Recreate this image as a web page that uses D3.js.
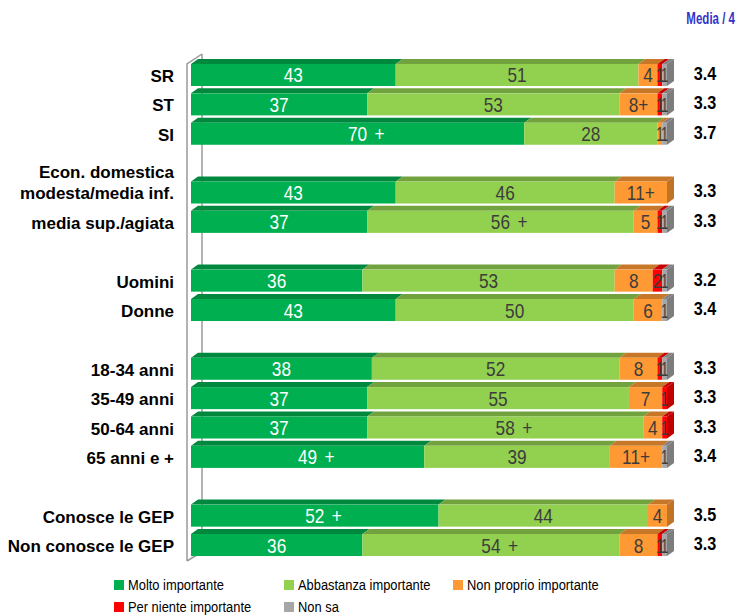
<!DOCTYPE html>
<html><head><meta charset="utf-8">
<script src="https://cdn.jsdelivr.net/npm/d3@7"></script>
<style>
html,body{margin:0;padding:0;background:#fff;}
svg{display:block;}
</style></head>
<body><svg id="chart" width="737" height="615"></svg>
<script>
// ---- data ----
const categories = ["SR","ST","SI","Econ. domestica\nmodesta/media inf.","media sup./agiata","Uomini","Donne","18-34 anni","35-49 anni","50-64 anni","65 anni e +","Conosce le GEP","Non conosce le GEP"];
const groupIndex = [0,0,0,1,1,2,2,3,3,3,3,4,4];
const seriesNames = ["Molto importante","Abbastanza importante","Non proprio importante","Per niente importante","Non sa"];
const molto      = [43,37,70,43,37,36,43,38,37,37,49,52,36];
const abbastanza = [51,53,28,46,56,53,50,52,55,58,39,44,54];
const nonProprio = [4,8,1,11,5,8,6,8,7,4,11,4,8];
const perNiente  = [1,1,0,0,1,2,0,1,1,1,0,0,1];
const nonSa      = [1,1,1,0,1,1,1,1,0,0,1,0,1];
const plusMolto      = [0,0,1,0,0,0,0,0,0,0,1,1,0];
const plusAbbastanza = [0,0,0,0,1,0,0,0,0,1,0,0,1];
const plusNonProprio = [0,1,0,1,0,0,0,0,0,0,1,0,0];
const media = ["3.4","3.3","3.7","3.3","3.3","3.2","3.4","3.3","3.3","3.3","3.4","3.5","3.3"];
const colors = ["#00b050","#92d050","#ff9933","#ff0000","#a6a6a6"];

const series = [molto, abbastanza, nonProprio, perNiente, nonSa];
const plusFlags = [plusMolto, plusAbbastanza, plusNonProprio, null, null];

// ---- layout ----
const svg = d3.select("#chart");
const nSlots = categories.length + d3.max(groupIndex);
const x = d3.scaleLinear().domain([0,100]).range([191,667]);
const y = d3.scaleBand().domain(d3.range(nSlots)).range([60.3,559.7]).paddingInner(0.25).paddingOuter(0.125);
const h = y.bandwidth();
const dx = 7, dy = 5;
const slot = i => i + groupIndex[i];

const font = "'Liberation Sans',Arial,sans-serif";

function condText(parent, tx, ty, str, opts) {
  const t = parent.append("text")
    .attr("transform", `translate(${tx},${ty}) scale(${opts.sx||0.82},1)`)
    .attr("text-anchor", opts.anchor || "middle")
    .attr("font-family", font)
    .attr("font-size", opts.size)
    .attr("fill", opts.fill)
    .text(str);
  if (opts.bold) t.attr("font-weight","bold");
  return t;
}

// back wall line + axis
const axisG = svg.append("g").attr("stroke","#9a9a9a").attr("fill","none").attr("stroke-width",1.5);
axisG.append("line").attr("x1",202).attr("x2",202).attr("y1",54).attr("y2",553);
axisG.append("path").attr("d","M187,561 L187,64 L202,54 M187,561 L200,553");

// bars
const rowsG = svg.append("g");
categories.forEach((c,i) => {
  const yt = y(slot(i));
  const g = rowsG.append("g");
  let cum = 0;
  const segs = [];
  series.forEach((s,k) => {
    const v = s[i];
    if (v > 0) segs.push({k, v, x0:x(cum), x1:x(cum+v)});
    cum += v;
  });
  segs.forEach(d => {
    g.append("path")
      .attr("d",`M${d.x0},${yt} L${d.x0+dx},${yt-dy} L${d.x1+dx},${yt-dy} L${d.x1},${yt} Z`)
      .attr("fill", d3.color(colors[d.k]).darker(0.7));
  });
  segs.forEach(d => {
    g.append("rect").attr("x",d.x0).attr("y",yt).attr("width",d.x1-d.x0).attr("height",h)
      .attr("fill",colors[d.k]);
  });
  const last = segs[segs.length-1];
  g.append("path")
    .attr("d",`M${last.x1},${yt} L${last.x1+dx},${yt-dy} L${last.x1+dx},${yt-dy+h} L${last.x1},${yt+h} Z`)
    .attr("fill", d3.color(colors[last.k]).darker(0.8));
  // labels
  segs.forEach(d => {
    const cx = (d.x0+d.x1)/2;
    const flag = plusFlags[d.k] ? plusFlags[d.k][i] : 0;
    const fill = d.k === 0 ? "#ffffff" : "#3c3c3c";
    const ty = yt + h/2 + 7.5;
    const small = (d.x1 - d.x0) < 8;
    const opts = {size: 21, fill, sx: small ? 0.62 : 0.82};
    if (d.k === 2 && flag) {
      condText(g, cx, ty, d.v+"+", opts);
    } else {
      condText(g, cx, ty, String(d.v), opts);
      if (flag) condText(g, cx+17, ty, "+", Object.assign({}, opts, {anchor:"start"}));
    }
  });
  // category label
  const lines = c.split("\n");
  lines.forEach((ln,j) => {
    svg.append("text").attr("x",174).attr("y",yt+h/2+7 - (lines.length-1-j)*21)
      .attr("text-anchor","end").attr("font-family",font).attr("font-weight","bold")
      .attr("font-size",17).attr("fill","#000").text(ln);
  });
  // media
  condText(svg, 705, yt+h/2+5, media[i], {size:18, fill:"#000", bold:true, sx:0.9});
});

// header
condText(svg, 735, 24, "Media / 4", {size:16, fill:"#3434c8", bold:true, anchor:"end", sx:0.72});

// legend
const legX = [114,284,453], legY = [580,602];
seriesNames.forEach((n,k) => {
  const lx = legX[k%3], ly = legY[Math.floor(k/3)];
  svg.append("rect").attr("x",lx).attr("y",ly).attr("width",10).attr("height",10).attr("fill",colors[k]);
  condText(svg, lx+14, ly+10, n, {size:15, fill:"#000", anchor:"start", sx:0.86});
});
</script></body></html>
